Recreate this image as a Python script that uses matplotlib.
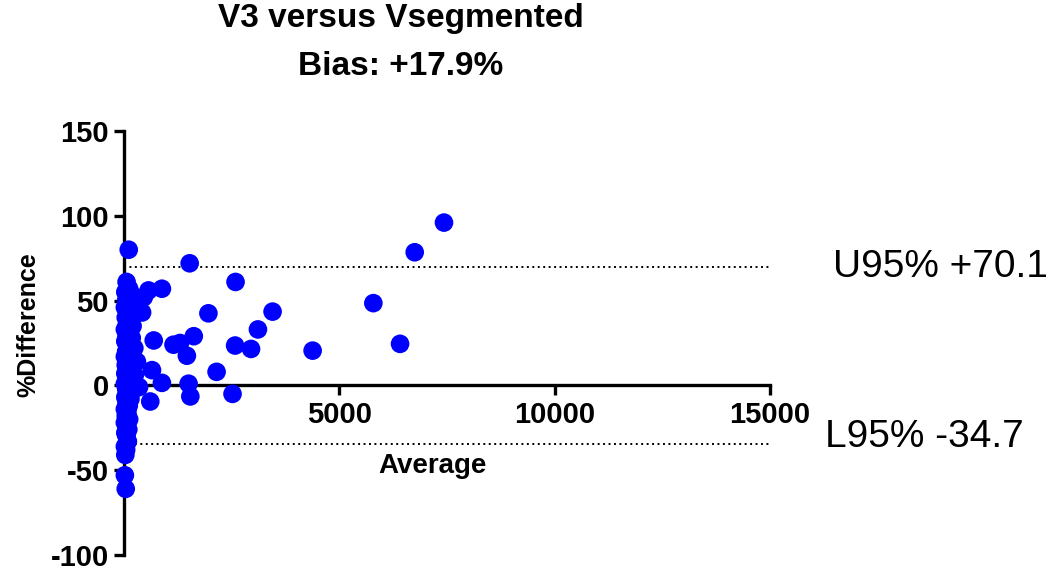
import matplotlib
matplotlib.use("Agg")
import matplotlib.pyplot as plt

plt.rcParams['font.family'] = ['Liberation Sans', 'DejaVu Sans']
plt.rcParams['axes.unicode_minus'] = False

title_lines = ["V3 versus Vsegmented", "Bias: +17.9%"]
x_label = "Average"
y_label = "%Difference"
upper_loa = 70.1
lower_loa = -34.7
upper_text = "U95% +70.1"
lower_text = "L95% -34.7"
x_ticks = [5000, 10000, 15000]
y_ticks = [-100, -50, 0, 50, 100, 150]

# dense cluster near x = 0
avg_cluster = [60, 30, 120, 200, 50, 150, 20, 90, 250, 40, 140, 70, 200, 20, 110, 60,
               180, 30, 100, 240, 50, 150, 20, 90, 300, 40, 180, 120, 30, 250, 70, 160,
               20, 110, 350, 50, 200, 80, 30, 150, 60, 110, 20, 80, 40, 120, 20, 70,
               100, 30, 60, 90, 20, 50, 30, 20, 40, 110]
diff_cluster = [61, 55, 57, 53, 50, 48, 46, 44, 45, 40, 39, 36, 35, 33, 31, 29,
                28, 26, 24, 22, 20, 19, 17, 15, 14, 12, 11, 8, 7, 6, 4, 3,
                1, 0, -1, -2, -3, -5, -7, -8, -10, -12, -14, -16, -18, -20, -22, -24,
                -26, -28, -30, -33, -36, -38, -41, -53, -61, 80]

# remaining points
avg_spread = [570, 880, 460, 420, 690, 1150, 1300, 1525, 1620, 1460, 1500, 1540, 2150,
              1960, 2590, 2580, 2520, 2950, 3110, 3450, 4380, 5790, 6410, 6750, 7430,
              880, 610, 650]
diff_spread = [56, 57, 52, 43, 26.5, 24, 25, 72, 29, 17.5, 1, -6.5, 8,
               42.5, 61, 23.5, -5, 21.5, 33, 43.5, 20.5, 48.5, 24.5, 78.5, 96,
               1.5, -9.5, 9]

average = avg_cluster + avg_spread
difference = diff_cluster + diff_spread

fig = plt.figure(figsize=(10.5, 5.69), dpi=100)
ax = fig.add_axes([124/1050, 1-555/569, 646/1050, 424/569])

ax.axhline(upper_loa, xmin=0, xmax=1, color='black', linestyle=(0, (1, 1.8)), linewidth=1.4, zorder=1)
ax.axhline(lower_loa, xmin=0, xmax=1, color='black', linestyle=(0, (1, 1.8)), linewidth=1.4, zorder=1)

ax.scatter(average, difference, s=180, color='#0000ff', edgecolors='none', zorder=3, clip_on=False)

ax.set_xlim(0, 15000)
ax.set_ylim(-100, 150)
ax.spines['top'].set_visible(False)
ax.spines['right'].set_visible(False)
ax.spines['bottom'].set_position(('data', 0))
for s in ['left', 'bottom']:
    ax.spines[s].set_linewidth(2.4)
    ax.spines[s].set_zorder(2)
ax.set_xticks(x_ticks)
ax.set_yticks(y_ticks)
ax.tick_params(axis='both', length=7, width=2.4, labelsize=21, pad=4)
for lab in ax.get_xticklabels() + ax.get_yticklabels():
    lab.set_fontweight('bold')

ax.text(0.477, 0.21, x_label, transform=ax.transAxes, ha='center', va='center',
        fontsize=20, fontweight='bold')
fig.text(28/1050, 1-325/569, y_label, rotation=90, ha='center', va='center',
         fontsize=18, fontweight='bold')

fig.text(401/1050, 1-18/569, title_lines[0], ha='center', va='center', fontsize=24, fontweight='bold')
fig.text(401/1050, 1-66/569, title_lines[1], ha='center', va='center', fontsize=24, fontweight='bold')

ax.text((833-124)/646, upper_loa, upper_text, transform=ax.get_yaxis_transform(),
        ha='left', va='center', fontsize=28, clip_on=False)
ax.text((825-124)/646, lower_loa - 1.5, lower_text, transform=ax.get_yaxis_transform(),
        ha='left', va='baseline', fontsize=28, clip_on=False)

fig.savefig("out.png", dpi=100)
